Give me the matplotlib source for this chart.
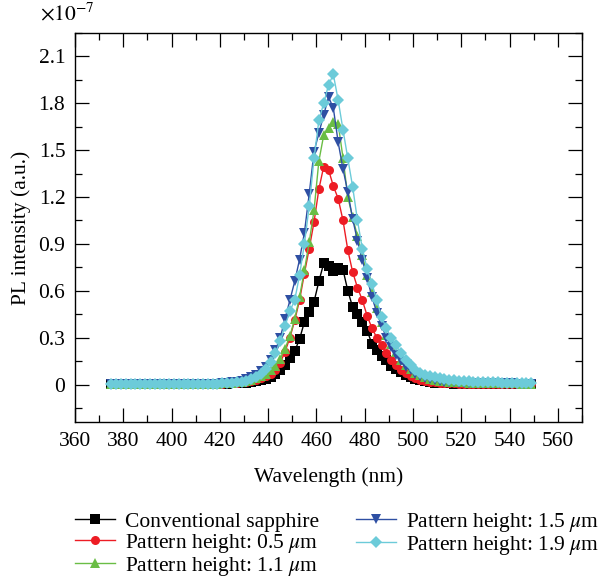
import numpy as np
import matplotlib
matplotlib.use("Agg")
import matplotlib.pyplot as plt
from matplotlib.ticker import MultipleLocator, FuncFormatter

plt.rcParams['font.family'] = ['Liberation Serif', 'DejaVu Serif']
plt.rcParams['mathtext.fontset'] = 'stix'

# Comprimento de onda (nm), passo de 2 nm
wavelength = np.arange(375, 550, 2)

# Intensidades PL (x 1e-7 u.a.)
tail_left = [0.002] * 7 + [0.003] * 8 + [0.004] * 8          # 375 ... 419

conv_sapphire = tail_left + [
    0.005, 0.006, 0.007, 0.008, 0.010, 0.012, 0.016, 0.021, 0.028, 0.038,   # 421-439
    0.050, 0.068, 0.092, 0.128, 0.170, 0.215, 0.290, 0.400, 0.465, 0.530,   # 441-459
    0.660, 0.775, 0.760, 0.725, 0.748, 0.735, 0.600, 0.495, 0.450, 0.400,   # 461-479
    0.345, 0.260, 0.220, 0.185, 0.155, 0.120, 0.100, 0.080, 0.062, 0.048,   # 481-499
    0.037, 0.028, 0.021, 0.016, 0.012, 0.010, 0.008, 0.007, 0.006,          # 501-517
] + [0.005] * 16                                                            # 519-549

height_05 = tail_left + [
    0.006, 0.007, 0.009, 0.011, 0.014, 0.018, 0.023, 0.030, 0.040, 0.052,
    0.068, 0.095, 0.140, 0.210, 0.300, 0.410, 0.540, 0.710, 0.870, 1.040,
    1.250, 1.395, 1.375, 1.270, 1.190, 1.050, 0.860, 0.720, 0.620, 0.540,
    0.440, 0.360, 0.300, 0.250, 0.200, 0.160, 0.125, 0.095, 0.072, 0.055,
    0.042, 0.032, 0.024, 0.018, 0.014, 0.011, 0.009, 0.008, 0.007,
] + [0.006] * 16

height_11 = tail_left + [
    0.007, 0.009, 0.011, 0.014, 0.018, 0.023, 0.030, 0.040, 0.052, 0.068,
    0.090, 0.120, 0.165, 0.230, 0.310, 0.420, 0.560, 0.730, 0.910, 1.115,
    1.430, 1.595, 1.640, 1.680, 1.670, 1.450, 1.200, 1.070, 0.950, 0.830,
    0.700, 0.590, 0.490, 0.400, 0.320, 0.260, 0.205, 0.160, 0.125, 0.097,
    0.076, 0.060, 0.047, 0.037, 0.030, 0.025, 0.021, 0.018, 0.016,
    0.014, 0.013, 0.012, 0.011, 0.010, 0.010, 0.009, 0.009, 0.008, 0.008,
    0.007, 0.007, 0.007, 0.006, 0.006, 0.006,
]

height_15 = tail_left + [
    0.009, 0.011, 0.014, 0.018, 0.024, 0.033, 0.045, 0.062, 0.085, 0.115,
    0.160, 0.220, 0.300, 0.420, 0.540, 0.660, 0.800, 0.970, 1.220, 1.490,
    1.610, 1.725, 1.840, 1.770, 1.550, 1.380, 1.230, 1.060, 0.920, 0.800,
    0.680, 0.560, 0.460, 0.375, 0.300, 0.240, 0.190, 0.150, 0.115, 0.090,
    0.070, 0.055, 0.043, 0.034, 0.027, 0.022, 0.018, 0.015, 0.013,
    0.012, 0.011, 0.010, 0.010, 0.009, 0.009, 0.008, 0.008, 0.008, 0.007,
    0.007, 0.007, 0.006, 0.006, 0.006, 0.006,
]

height_19 = tail_left + [
    0.008, 0.010, 0.012, 0.015, 0.019, 0.025, 0.034, 0.047, 0.068, 0.100,
    0.145, 0.200, 0.280, 0.375, 0.470, 0.540, 0.700, 0.900, 1.140, 1.447,
    1.690, 1.800, 1.917, 1.985, 1.820, 1.630, 1.447, 1.265, 1.050, 0.870,
    0.740, 0.645, 0.540, 0.430, 0.360, 0.300, 0.250, 0.200, 0.155, 0.122,
    0.095, 0.076, 0.062, 0.052, 0.045, 0.039, 0.034, 0.030, 0.027,
    0.025, 0.023, 0.021, 0.019, 0.017, 0.016, 0.015, 0.014, 0.013, 0.012,
    0.011, 0.011, 0.010, 0.010, 0.009, 0.009,
]

series = [
    ("Conventional sapphire", conv_sapphire, "black", "s"),
    (r"Pattern height: 0.5 $\mu$m", height_05, "#ed1c24", "o"),
    (r"Pattern height: 1.1 $\mu$m", height_11, "#6abd45", "^"),
    (r"Pattern height: 1.5 $\mu$m", height_15, "#2e4fa3", "v"),
    (r"Pattern height: 1.9 $\mu$m", height_19, "#6ccbd9", "D"),
]

fs = 15.5

fig = plt.figure(figsize=(6.05, 5.85), dpi=100)
ax = fig.add_axes([0.124, 0.2786, 0.838, 0.665])

for label, vals, cor, mk in series:
    ms = 6.0 if mk == "D" else 6.5
    ax.plot(wavelength, vals, color=cor, marker=mk, markersize=ms,
            linewidth=1.0, markeredgewidth=0, label=label)

ax.set_xlim(360, 570)
ax.set_ylim(-0.24, 2.25)
ax.xaxis.set_major_locator(MultipleLocator(20))
ax.xaxis.set_minor_locator(MultipleLocator(10))
ax.yaxis.set_major_locator(MultipleLocator(0.3))
ax.yaxis.set_minor_locator(MultipleLocator(0.15))
ax.yaxis.set_major_formatter(FuncFormatter(lambda v, p: "0" if abs(v) < 1e-9 else f"{v:.1f}"))

ax.tick_params(which='both', direction='in', top=True, right=True, labelsize=fs, width=0.9)
ax.tick_params(which='major', length=10, pad=7)
ax.tick_params(which='minor', length=5)
for s in ax.spines.values():
    s.set_linewidth(1.0)

ax.set_xlabel("Wavelength (nm)", fontsize=fs, labelpad=12)
ax.set_ylabel("PL intensity (a.u.)", fontsize=fs, labelpad=5)
ax.text(-0.07, 1.02, r"$\times10^{-7}$", transform=ax.transAxes, fontsize=fs,
        ha='left', va='bottom')

fig.legend(loc='upper left', bbox_to_anchor=(0.124, 0.127), ncol=2, frameon=False,
           fontsize=fs, handlelength=1.86, handletextpad=0.47, columnspacing=1.7,
           labelspacing=0.0, borderaxespad=0, borderpad=0)

plt.savefig("out.png", dpi=100)
